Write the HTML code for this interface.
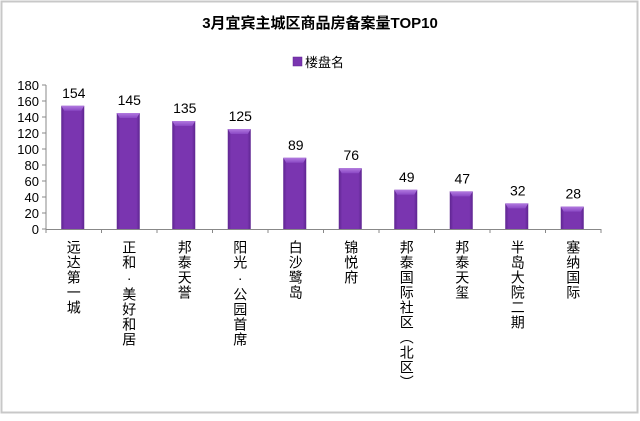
<!DOCTYPE html>
<html><head><meta charset="utf-8">
<style>
html,body{margin:0;padding:0;background:#fff;}
body{width:640px;height:416px;overflow:hidden;font-family:"Liberation Sans","Noto Sans CJK SC",sans-serif;}
</style></head>
<body>
<svg id="chart" width="640" height="416" xmlns="http://www.w3.org/2000/svg" font-family="Liberation Sans, Noto Sans CJK SC, sans-serif">
<defs>
<linearGradient id="barg" x1="0" y1="0" x2="1" y2="0">
<stop offset="0" stop-color="#5e2590"/><stop offset="0.15" stop-color="#7a35b0"/><stop offset="0.85" stop-color="#7a35b0"/><stop offset="1" stop-color="#5e2590"/>
</linearGradient>
<linearGradient id="capg" x1="0" y1="0" x2="0" y2="1">
<stop offset="0" stop-color="#b27ae0"/><stop offset="1" stop-color="#8a48c4"/>
</linearGradient>
</defs>
<rect x="1.5" y="1.5" width="636" height="411" fill="#fff" stroke="#c8c8c8" stroke-width="2"/>
<text x="320" y="28" text-anchor="middle" font-size="15" font-weight="bold" fill="#000">3月宜宾主城区商品房备案量TOP10</text>
<g>
<rect x="293" y="57" width="9" height="9" fill="#7a35b0" stroke="#5e2590" stroke-width="0.5"/>
<text x="305" y="67" font-size="13" fill="#000">楼盘名</text>
</g>
<g id="axes"></g>
<g id="bars"></g>
</svg>
<script>
const categories=["远达第一城","正和·美好和居","邦泰天誉","阳光·公园首席","白沙鹭岛","锦悦府","邦泰国际社区（北区）","邦泰天玺","半岛大院二期","塞纳国际"];
const values=[154,145,135,125,89,76,49,47,32,28];
const yTicks=[0,20,40,60,80,100,120,140,160,180];
const NS="http://www.w3.org/2000/svg";
const X0=46,X1=601,Y0=229,Y1=85,YMAX=180;
const bw=(X1-X0)/categories.length;
function xs(i){return X0+bw*i+bw/2;}
function ys(v){return Y0-(v/YMAX)*(Y0-Y1);}
function mk(tag,attrs,parent){const e=document.createElementNS(NS,tag);for(const k in attrs)e.setAttribute(k,attrs[k]);parent.appendChild(e);return e;}
const axes=document.getElementById('axes'),bars=document.getElementById('bars');
let yl=mk('line',{x1:X0,y1:Y1,x2:X0,y2:Y0,stroke:'#888','stroke-width':1},axes);


let xl=mk('line',{x1:X0,y1:Y0+0.5,x2:X1,y2:Y0+0.5,stroke:'#888','stroke-width':1},axes);


yTicks.forEach(t=>{
 const y=ys(t);
 let tk=mk('line',{x1:X0-4,y1:y,x2:X0,y2:y,stroke:'#888'},axes);
 
 
 let tx=mk('text',{x:X0-7,y:y+5,'text-anchor':'end','font-size':'13',fill:'#000'},axes);
 tx.textContent=t;
 
 
});
for(let i=0;i<=categories.length;i++){
 const x=X0+bw*i;
 let tk=mk('line',{x1:x,y1:Y0,x2:x,y2:Y0+4,stroke:'#888'},axes);
 
 
}
categories.forEach((c,i)=>{
 const cx=xs(i)-1,w=23,top=ys(values[i]);
 const g=mk('g',{},bars);
 
 
 mk('rect',{x:cx-w/2,y:top,width:w,height:Y0-top,fill:'url(#barg)'},g);
 mk('path',{d:`M${cx-w/2} ${top} L${cx+w/2} ${top} L${cx+w/2-3} ${top+5} L${cx-w/2+3} ${top+5} Z`,fill:'url(#capg)'},g);
 let vl=mk('text',{x:xs(i),y:top-8,'text-anchor':'middle','font-size':'14',fill:'#000'},bars);
 vl.textContent=values[i];
 
 
 let cl=mk('text',{x:xs(i),y:240,'font-size':'14',fill:'#000','writing-mode':'tb','glyph-orientation-vertical':'0','text-anchor':'start','letter-spacing':'1',style:'writing-mode:vertical-rl;text-orientation:upright;font-family:"Liberation Sans","Noto Sans CJK SC",sans-serif'},bars);
 cl.textContent=c;
 
 
});
</script>
</body></html>
